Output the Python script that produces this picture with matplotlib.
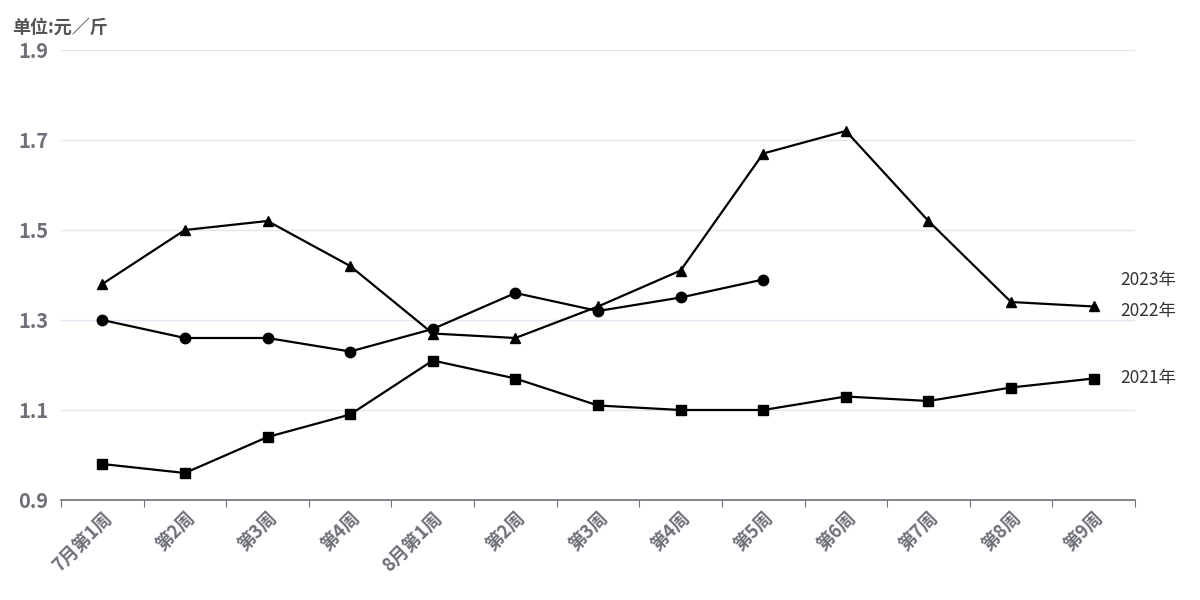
import matplotlib
matplotlib.use('Agg')
import matplotlib.pyplot as plt

plt.rcParams['font.family'] = ['Noto Sans CJK SC', 'DejaVu Sans']

# categories and values
weeks = ['7月第1周', '第2周', '第3周', '第4周', '8月第1周', '第2周', '第3周',
         '第4周', '第5周', '第6周', '第7周', '第8周', '第9周']
y2023 = [1.30, 1.26, 1.26, 1.23, 1.28, 1.36, 1.32, 1.35, 1.39]
y2022 = [1.38, 1.50, 1.52, 1.42, 1.27, 1.26, 1.33, 1.41, 1.67, 1.72, 1.52, 1.34, 1.33]
y2021 = [0.98, 0.96, 1.04, 1.09, 1.21, 1.17, 1.11, 1.10, 1.10, 1.13, 1.12, 1.15, 1.17]
yticks = [0.9, 1.1, 1.3, 1.5, 1.7, 1.9]

series = [('2023年', y2023, 'o', 0), ('2022年', y2022, '^', -3), ('2021年', y2021, 's', 0)]

fig = plt.figure(figsize=(12, 6), dpi=100)
ax = fig.add_axes([61/1200, 100/600, 1074/1200, 450/600])

for name, vals, mk, dy in series:
    xs = list(range(len(vals)))
    ax.plot(xs, vals, color='black', lw=1.6, marker=mk, markersize=7.5,
            markeredgecolor='black', markerfacecolor='black', zorder=3)
    ax.annotate(name, xy=(12.32, vals[-1]), xytext=(0, dy),
                textcoords='offset points', fontsize=12.5, color='#333333',
                ha='left', va='center', annotation_clip=False)

ax.set_xlim(-0.5, 12.5)
ax.set_ylim(0.9, 1.9)
ax.set_yticks(yticks)
ax.set_yticklabels([f'{v:.1f}' for v in yticks], fontsize=14.5, fontweight='bold',
                   color='#6e7079')
ax.tick_params(axis='y', length=0, pad=9)

# ticks at category boundaries, labels at centres
ax.set_xticks([i - 0.5 for i in range(len(weeks) + 1)])
ax.set_xticklabels([])
ax.set_xticks(range(len(weeks)), minor=True)
ax.set_xticklabels(weeks, minor=True, rotation=45, ha='right', va='top',
                   rotation_mode='anchor', fontsize=13, fontweight='bold',
                   color='#6e7079')
ax.tick_params(axis='x', which='major', length=5, color='#6e7079')
ax.tick_params(axis='x', which='minor', length=0, pad=6)

ax.grid(axis='y', color='#e0e6f1', lw=1)
ax.set_axisbelow(True)
for s in ['top', 'right', 'left']:
    ax.spines[s].set_visible(False)
ax.spines['bottom'].set_color('#6e7079')
ax.spines['bottom'].set_linewidth(1.2)

fig.text(12/1200, 1 - 27/600, '单位:元／斤', fontsize=13, color='#555555',
         fontweight='bold', ha='left', va='center')

fig.savefig('out.png', dpi=100)
